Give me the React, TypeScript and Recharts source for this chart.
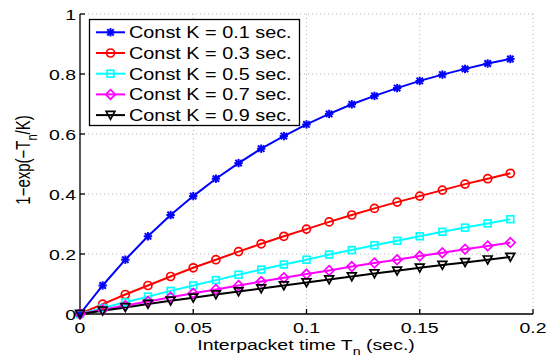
import { LineChart, Line, XAxis, YAxis, CartesianGrid } from "recharts"

const T = [0, 0.01, 0.02, 0.03, 0.04, 0.05, 0.06, 0.07, 0.08, 0.09, 0.1, 0.11, 0.12, 0.13, 0.14, 0.15, 0.16, 0.17, 0.18, 0.19]
const K01 = [0, 0.095, 0.181, 0.259, 0.33, 0.393, 0.451, 0.503, 0.551, 0.593, 0.632, 0.667, 0.699, 0.727, 0.753, 0.777, 0.798, 0.817, 0.835, 0.85]
const K03 = [0, 0.033, 0.065, 0.095, 0.125, 0.154, 0.181, 0.208, 0.234, 0.259, 0.283, 0.307, 0.33, 0.352, 0.373, 0.393, 0.413, 0.433, 0.451, 0.469]
const K05 = [0, 0.02, 0.039, 0.058, 0.077, 0.095, 0.113, 0.131, 0.148, 0.165, 0.181, 0.198, 0.213, 0.229, 0.244, 0.259, 0.274, 0.288, 0.302, 0.316]
const K07 = [0, 0.014, 0.028, 0.042, 0.056, 0.069, 0.082, 0.095, 0.108, 0.121, 0.133, 0.145, 0.158, 0.17, 0.181, 0.193, 0.204, 0.216, 0.227, 0.238]
const K09 = [0, 0.011, 0.022, 0.033, 0.044, 0.054, 0.065, 0.075, 0.085, 0.095, 0.105, 0.115, 0.125, 0.135, 0.144, 0.154, 0.163, 0.172, 0.181, 0.19]

const X_TICKS = [0, 0.05, 0.1, 0.15, 0.2]
const Y_TICKS = [0, 0.2, 0.4, 0.6, 0.8, 1]

const SERIES = [
  { key: "k01", name: "Const K = 0.1 sec.", color: "#0000ff", marker: "star" },
  { key: "k03", name: "Const K = 0.3 sec.", color: "#ff0000", marker: "circle" },
  { key: "k05", name: "Const K = 0.5 sec.", color: "#00ffff", marker: "square" },
  { key: "k07", name: "Const K = 0.7 sec.", color: "#ff00ff", marker: "diamond" },
  { key: "k09", name: "Const K = 0.9 sec.", color: "#000000", marker: "triangle" },
]

const data = T.map((t, i) => ({ t, k01: K01[i], k03: K03[i], k05: K05[i], k07: K07[i], k09: K09[i] }))

const FONT = "'Liberation Sans', Arial, sans-serif"

function Marker({ type, cx, cy, color }: any) {
  const common = { stroke: color, strokeWidth: 1.7, fill: "none" }
  switch (type) {
    case "star":
      return (
        <g stroke={color} strokeWidth={2}>
          <line x1={cx - 4.2} y1={cy} x2={cx + 4.2} y2={cy} />
          <line x1={cx} y1={cy - 4.2} x2={cx} y2={cy + 4.2} />
          <line x1={cx - 3.2} y1={cy - 3.2} x2={cx + 3.2} y2={cy + 3.2} />
          <line x1={cx - 3.2} y1={cy + 3.2} x2={cx + 3.2} y2={cy - 3.2} />
        </g>
      )
    case "circle":
      return <circle cx={cx} cy={cy} r={4} {...common} />
    case "square":
      return <rect x={cx - 3.4} y={cy - 3.4} width={6.8} height={6.8} {...common} />
    case "diamond":
      return <polygon points={`${cx},${cy - 4.8} ${cx + 4.8},${cy} ${cx},${cy + 4.8} ${cx - 4.8},${cy}`} {...common} />
    default:
      return <polygon points={`${cx - 4.4},${cy - 3.7} ${cx + 4.4},${cy - 3.7} ${cx},${cy + 4.2}`} {...common} />
  }
}

function SText({ x, y, anchor, size, sx, children }: any) {
  return (
    <g transform={`translate(${x},${y}) scale(${sx},1)`}>
      <text x={0} y={0} textAnchor={anchor} fontSize={size} fontFamily={FONT} fill="#000">
        {children}
      </text>
    </g>
  )
}

const XTick = ({ x, y, payload }: any) => (
  <SText x={x} y={y + 11} anchor="middle" size={15} sx={1.3}>
    {String(payload.value)}
  </SText>
)

const YTick = ({ x, y, payload }: any) => (
  <SText x={x} y={y + 5.5} anchor="end" size={15} sx={1.3}>
    {String(payload.value)}
  </SText>
)

function Overlay() {
  const rowY = (i: number) => 32.3 + i * 20.7
  return (
    <svg width={557} height={362} style={{ position: "absolute", left: 0, top: 0, pointerEvents: "none" }}>
      <rect x={89.5} y={19.5} width={210} height={106} fill="#fff" stroke="#000" strokeWidth={1.3} />
      {SERIES.map((s, i) => (
        <g key={s.key}>
          <line x1={96} y1={rowY(i)} x2={125} y2={rowY(i)} stroke={s.color} strokeWidth={2} />
          <Marker type={s.marker} cx={110.5} cy={rowY(i)} color={s.color} />
          <SText x={129} y={rowY(i) + 6} anchor="start" size={16} sx={1.24}>
            {s.name}
          </SText>
        </g>
      ))}
      <g transform="translate(306,350) scale(1.3,1)">
        <text textAnchor="middle" fontSize={15} fontFamily={FONT} fill="#000">
          Interpacket time T<tspan fontSize={11} dy={5}>n</tspan>
          <tspan dy={-5}> (sec.)</tspan>
        </text>
      </g>
      <g transform="translate(30,160) rotate(-90) scale(1,1.3)">
        <text textAnchor="middle" fontSize={15} fontFamily={FONT} fill="#000">
          1−exp(−T<tspan fontSize={11} dy={5}>n</tspan>
          <tspan dy={-5}>/K)</tspan>
        </text>
      </g>
    </svg>
  )
}

export default function App() {
  return (
    <div style={{ position: "absolute", left: 0, top: 0, width: 557, height: 362, background: "#fff" }}>
      <LineChart width={557} height={362} data={data} margin={{ top: 14, right: 24, bottom: 18, left: 40 }}>
        <CartesianGrid stroke="#b4b4b4" strokeDasharray="1 3" />
        <XAxis
          dataKey="t"
          type="number"
          domain={[0, 0.2]}
          ticks={X_TICKS}
          height={30}
          stroke="#000"
          strokeWidth={1.3}
          tickSize={-5}
          tickMargin={13}
          tick={<XTick />}
        />
        <XAxis xAxisId="top" orientation="top" type="number" domain={[0, 0.2]} ticks={X_TICKS} height={0} stroke="#000" strokeWidth={1.3} tickSize={-5} tick={false} />
        <YAxis
          type="number"
          domain={[0, 1]}
          ticks={Y_TICKS}
          width={40}
          stroke="#000"
          strokeWidth={1.3}
          tickSize={-5}
          tickMargin={9}
          tick={<YTick />}
        />
        <YAxis yAxisId="right" orientation="right" type="number" domain={[0, 1]} ticks={Y_TICKS} width={0} stroke="#000" strokeWidth={1.3} tickSize={-5} tick={false} />
        {SERIES.map((s) => (
          <Line
            key={s.key}
            dataKey={s.key}
            type="linear"
            stroke={s.color}
            strokeWidth={2}
            isAnimationActive={false}
            activeDot={false}
            dot={(p: any) => <Marker key={`${s.key}-${p.index}`} type={s.marker} cx={p.cx} cy={p.cy} color={s.color} />}
          />
        ))}
      </LineChart>
      <Overlay />
    </div>
  )
}
